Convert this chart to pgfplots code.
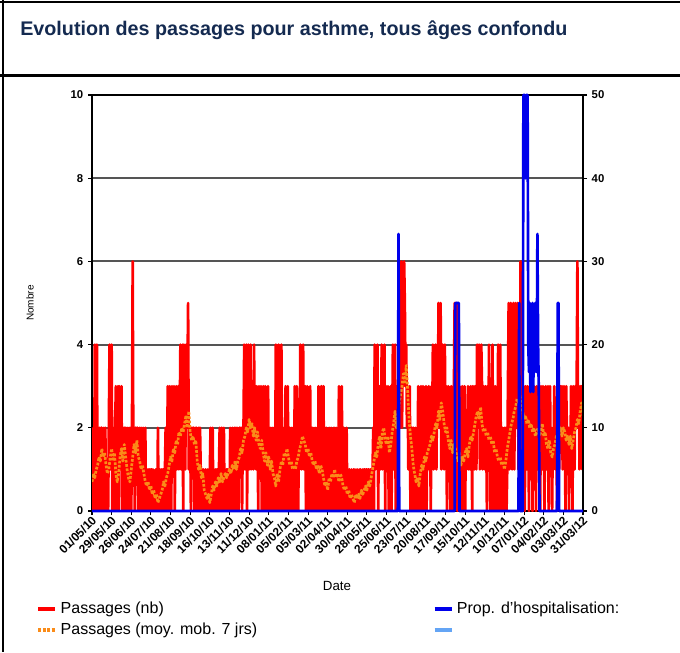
\documentclass[border=0pt]{standalone}
\usepackage{fontspec}
\setmainfont{Liberation Sans}
\usepackage{graphicx}
\usepackage{pgfplots}
\usepackage{pgfplotstable}
\pgfplotsset{compat=1.18}

\definecolor{titlenavy}{RGB}{20,42,80}
\definecolor{passred}{RGB}{255,0,0}
\definecolor{mmorange}{RGB}{250,140,25}
\definecolor{hospblue}{RGB}{0,0,235}
\definecolor{lightblue}{RGB}{100,165,245}
\definecolor{gridgray}{RGB}{85,85,85}

% passages par jour, 01/05/10 -> 31/03/12
\pgfplotstableread[row sep=\\]{n\\
1\\0\\2\\0\\4\\1\\0\\4\\0\\2\\
1\\2\\0\\2\\2\\1\\0\\2\\1\\2\\
0\\1\\0\\0\\2\\4\\1\\2\\4\\0\\
2\\1\\0\\2\\3\\0\\1\\3\\0\\3\\
1\\2\\3\\0\\2\\1\\2\\0\\2\\1\\
2\\0\\0\\2\\1\\2\\0\\2\\6\\1\\
2\\0\\2\\1\\2\\2\\0\\1\\2\\0\\
2\\1\\0\\2\\0\\1\\2\\0\\1\\0\\
1\\0\\1\\0\\1\\1\\0\\1\\0\\0\\
0\\1\\0\\0\\2\\0\\0\\1\\0\\1\\
0\\1\\1\\0\\1\\2\\0\\1\\3\\0\\
2\\3\\1\\0\\3\\2\\1\\3\\0\\2\\
3\\1\\2\\3\\1\\2\\4\\1\\2\\4\\
0\\4\\2\\1\\4\\2\\3\\5\\1\\2\\
2\\0\\2\\1\\2\\2\\0\\2\\1\\2\\
0\\1\\2\\0\\2\\1\\0\\1\\0\\1\\
0\\0\\1\\0\\0\\1\\0\\0\\1\\2\\
0\\1\\2\\0\\1\\0\\1\\0\\1\\1\\
0\\1\\2\\0\\1\\2\\0\\1\\2\\0\\
1\\0\\1\\1\\0\\1\\0\\2\\1\\0\\
2\\1\\0\\2\\1\\2\\0\\2\\1\\0\\
2\\2\\1\\2\\0\\2\\2\\4\\1\\2\\
4\\0\\2\\4\\1\\3\\4\\1\\2\\3\\
1\\4\\2\\3\\1\\3\\2\\0\\3\\1\\
2\\3\\0\\2\\3\\1\\0\\3\\1\\2\\
0\\3\\1\\2\\0\\2\\1\\0\\2\\0\\
1\\0\\4\\0\\0\\1\\4\\0\\1\\0\\
4\\1\\2\\0\\2\\1\\3\\0\\2\\3\\
1\\0\\2\\1\\0\\2\\1\\2\\0\\3\\
0\\2\\3\\1\\0\\2\\1\\4\\2\\1\\
2\\4\\1\\2\\3\\0\\1\\3\\2\\0\\
1\\3\\0\\2\\1\\2\\0\\1\\2\\0\\
1\\2\\0\\3\\1\\0\\2\\3\\0\\1\\
3\\0\\1\\0\\2\\0\\1\\0\\2\\0\\
1\\2\\0\\1\\0\\2\\1\\0\\2\\0\\
1\\0\\3\\0\\1\\0\\3\\1\\0\\2\\
0\\1\\0\\2\\0\\1\\0\\1\\0\\0\\
1\\0\\0\\1\\0\\1\\0\\0\\1\\0\\
0\\1\\0\\1\\0\\0\\1\\0\\1\\1\\
0\\1\\1\\0\\1\\1\\0\\1\\1\\0\\
1\\2\\0\\4\\1\\2\\3\\4\\0\\2\\
3\\1\\2\\4\\1\\3\\2\\4\\0\\3\\
1\\2\\3\\0\\2\\1\\3\\0\\2\\4\\
1\\2\\4\\0\\3\\2\\1\\2\\3\\2\\
3\\6\\2\\4\\3\\6\\5\\3\\4\\2\\
3\\1\\2\\3\\0\\1\\2\\0\\2\\1\\
0\\2\\0\\1\\0\\3\\0\\1\\0\\3\\
0\\1\\3\\0\\2\\1\\3\\0\\2\\1\\
3\\1\\2\\0\\3\\2\\4\\1\\3\\2\\
4\\1\\3\\2\\5\\2\\3\\5\\1\\3\\
4\\2\\1\\4\\2\\3\\0\\2\\3\\1\\
2\\0\\3\\1\\2\\0\\3\\5\\1\\2\\
5\\0\\2\\1\\3\\0\\2\\1\\3\\0\\
1\\3\\0\\2\\1\\2\\3\\1\\2\\1\\
3\\2\\0\\3\\2\\1\\3\\2\\1\\4\\
2\\3\\4\\1\\2\\4\\3\\1\\3\\2\\
1\\3\\2\\0\\3\\1\\4\\2\\0\\3\\
1\\4\\0\\2\\1\\3\\0\\2\\1\\4\\
0\\2\\4\\1\\0\\2\\1\\0\\2\\1\\
2\\0\\1\\3\\5\\1\\2\\5\\3\\1\\
2\\5\\1\\3\\5\\2\\3\\5\\1\\2\\
3\\6\\2\\3\\1\\3\\2\\0\\3\\2\\
1\\3\\2\\0\\3\\1\\2\\3\\0\\2\\
3\\1\\2\\0\\3\\2\\1\\3\\2\\0\\
3\\2\\1\\3\\2\\0\\2\\3\\1\\2\\
3\\0\\2\\3\\1\\2\\0\\2\\1\\3\\
2\\1\\2\\0\\3\\2\\1\\2\\3\\2\\
3\\1\\2\\3\\2\\0\\3\\2\\1\\2\\
0\\2\\1\\3\\2\\0\\3\\2\\1\\3\\
2\\3\\6\\2\\3\\1\\3\\2\\3\\1\\2\\
}\redtab

% moyenne mobile 7 jours, un point tous les 2 jours
\pgfplotstableread[row sep=\\]{n\\
0.7\\0.9\\0.8\\1.0\\1.1\\1.3\\1.2\\1.5\\1.3\\1.4\\
1.1\\0.9\\1.0\\1.3\\1.5\\1.2\\1.4\\0.9\\0.7\\0.9\\
1.3\\1.5\\1.2\\1.6\\1.3\\1.0\\0.8\\0.7\\1.0\\1.3\\
1.6\\1.4\\1.7\\1.3\\1.2\\1.0\\1.1\\0.9\\0.7\\0.6\\
0.7\\0.5\\0.6\\0.4\\0.5\\0.3\\0.4\\0.2\\0.3\\0.4\\
0.5\\0.7\\0.6\\0.8\\0.9\\1.1\\1.3\\1.2\\1.5\\1.4\\
1.7\\1.6\\1.9\\1.8\\2.0\\1.9\\2.1\\2.3\\2.0\\2.4\\
1.9\\1.7\\1.8\\1.6\\1.7\\1.2\\1.0\\1.1\\0.8\\0.9\\
0.5\\0.4\\0.3\\0.4\\0.2\\0.4\\0.6\\0.5\\0.7\\0.6\\
0.8\\0.7\\0.9\\0.7\\0.8\\0.9\\0.8\\0.9\\1.0\\0.9\\
1.1\\1.0\\1.2\\1.0\\1.2\\1.3\\1.5\\1.4\\1.7\\1.8\\
2.0\\1.9\\2.2\\2.0\\2.1\\1.8\\2.0\\1.7\\1.9\\1.6\\
1.5\\1.7\\1.4\\1.2\\1.4\\1.1\\1.3\\1.0\\1.2\\0.9\\
0.8\\0.6\\0.9\\0.7\\1.0\\1.2\\1.1\\1.4\\1.3\\1.5\\
1.3\\1.1\\1.2\\1.0\\1.1\\1.0\\1.2\\1.3\\1.5\\1.6\\
1.8\\1.7\\1.6\\1.4\\1.5\\1.3\\1.4\\1.2\\1.1\\1.2\\
1.0\\1.1\\0.9\\1.1\\1.0\\0.8\\0.6\\0.7\\0.5\\0.8\\
0.7\\0.9\\0.8\\1.0\\0.8\\0.9\\0.7\\0.9\\0.8\\0.6\\
0.5\\0.6\\0.4\\0.5\\0.3\\0.4\\0.3\\0.2\\0.4\\0.3\\
0.4\\0.3\\0.5\\0.4\\0.5\\0.6\\0.5\\0.7\\0.6\\0.8\\
1.0\\1.2\\1.4\\1.3\\1.6\\1.8\\1.5\\1.9\\2.0\\1.7\\
1.6\\1.8\\1.4\\1.6\\1.9\\2.1\\2.4\\2.0\\2.2\\2.6\\
2.8\\3.0\\3.3\\3.1\\3.5\\2.9\\2.2\\1.8\\1.5\\1.1\\
0.9\\0.7\\0.8\\0.6\\0.9\\1.1\\1.0\\1.3\\1.2\\1.4\\
1.5\\1.6\\1.8\\1.7\\1.9\\2.1\\2.0\\2.4\\2.2\\2.6\\
2.4\\2.1\\1.9\\2.0\\1.7\\1.5\\1.7\\1.4\\1.6\\1.5\\
1.3\\1.2\\1.4\\1.1\\1.3\\1.2\\1.4\\1.5\\1.3\\1.6\\
1.8\\1.7\\1.9\\2.1\\2.3\\2.4\\2.2\\2.5\\2.1\\1.9\\
2.0\\1.8\\1.9\\1.7\\1.8\\1.6\\1.7\\1.4\\1.5\\1.3\\
1.2\\1.3\\1.1\\1.2\\1.0\\1.2\\1.5\\1.7\\1.9\\2.1\\
2.2\\2.4\\2.5\\2.7\\2.6\\2.8\\2.5\\2.4\\2.2\\2.3\\
2.1\\2.2\\2.0\\2.1\\1.9\\2.0\\1.8\\1.9\\2.0\\1.8\\
1.9\\2.1\\1.8\\1.9\\1.6\\1.5\\1.7\\1.4\\1.3\\1.5\\
1.6\\1.8\\1.7\\1.9\\2.0\\1.8\\2.0\\1.9\\1.7\\1.8\\
1.6\\1.8\\1.5\\1.7\\1.9\\2.0\\2.2\\2.1\\2.4\\2.6\\
2.3\\
}\orangetab

\pgfplotsset{
  chartbase/.style={
    at={(69pt,-383.25pt)}, anchor=south west,
    width=368.25pt, height=312pt, scale only axis,
    xmin=0, xmax=700,
    tick align=outside, major tick length=3pt,
    tick style={black, line width=0.8pt},
    /pgf/number format/assume math mode=true,
    yticklabel style={font=\bfseries\fontsize{8.5}{10}\selectfont},
  },
}

\begin{document}
\begin{tikzpicture}
\path[use as bounding box] (0,0) rectangle (510pt,-489pt);
\draw[line width=2pt] (0,-1.5pt) -- (510pt,-1.5pt);
\draw[line width=2pt] (0,-56.6pt) -- (510pt,-56.6pt);
\draw[line width=2pt] (2.2pt,0) -- (2.2pt,-489pt);
\node[anchor=base west, inner sep=0pt, text=titlenavy,
      font=\bfseries\fontsize{14.8}{17}\selectfont] at (15pt,-26.3pt)
  {Evolution des passages pour asthme, tous âges confondu};

\begin{axis}[chartbase,
  ymin=0, ymax=10, ytick={0,2,...,10},
  xtick={0,28,...,700},
  xticklabels={01/05/10,29/05/10,26/06/10,24/07/10,21/08/10,18/09/10,16/10/10,13/11/10,11/12/10,08/01/11,05/02/11,05/03/11,02/04/11,30/04/11,28/05/11,25/06/11,23/07/11,20/08/11,17/09/11,15/10/11,12/11/11,10/12/11,07/01/12,04/02/12,03/03/12,31/03/12},
  xtick pos=left, ytick pos=left,
  ymajorgrids, grid style={gridgray, line width=1.4pt},
  axis line style={black, line width=1.4pt},
  xticklabel style={font=\bfseries\fontsize{9}{10}\selectfont, rotate=45, anchor=east, yshift=-3pt, inner sep=0.5pt},
  ylabel={Nombre},
  ylabel style={at={(axis description cs:-0.126,0.5)}, anchor=center, font=\fontsize{7.5}{8}\selectfont},
  xlabel={Date},
  xlabel style={at={(axis description cs:0.499,-0.18)}, anchor=center, font=\fontsize{10}{12}\selectfont},
]
\addplot[passred, line width=2pt, line join=round] table[x expr=\coordindex, y=n] {\redtab};
\addplot[mmorange, line width=2pt, line join=round, dash pattern=on 2pt off 1.2pt] table[x expr=2*\coordindex, y=n] {\orangetab};
\end{axis}

\begin{axis}[chartbase,
  ymin=0, ymax=50, ytick={0,10,...,50},
  axis x line=none, axis y line*=right,
  axis line style={-, black, line width=1.4pt},
  clip=false,
  legend columns=2,
  legend cell align=left,
  legend image code/.code={\draw[#1] (0pt,0pt) -- (12.75pt,0pt);},
  legend style={at={(axis description cs:-0.122,-0.204)}, anchor=north west,
    draw=none, fill=none, font=\fontsize{12}{13}\selectfont,
    nodes={inner ysep=2.6pt, inner xsep=2.5pt},
    /tikz/every even column/.append style={column sep=129pt}},
]
\addplot[hospblue, line width=2pt, line join=round, forget plot] coordinates {
(0,0) (436,0) (437,33.3) (438,0) (517,0) (518,25) (519,25) (520,25) (521,25) (522,25) (523,25) (524,0)
(608,0) (609,25) (610,0) (614,0) (615,50) (616,50) (617,50) (618,40) (619,50) (620,50) (621,50)
(622,20) (623,16.7) (624,25) (625,14.3) (626,20) (627,16.7) (628,25) (629,14.3) (630,20)
(631,16.7) (632,25) (633,20) (634,16.7) (635,33.3) (636,20) (637,14.3) (638,0)
(663,0) (664,25) (665,25) (666,0) (700,0)};
\addlegendimage{passred, line width=3pt}
\addlegendentry{Passages (nb)}
\addlegendimage{hospblue, line width=3pt}
\addlegendentry{Prop. d'hospitalisation:}
\addlegendimage{mmorange, line width=3pt, dash pattern=on 2.2pt off 1.1pt}
\addlegendentry{Passages (moy. mob. 7 jrs)}
\addlegendimage{lightblue, line width=3pt}
\addlegendentry{}
\end{axis}
\end{tikzpicture}
\end{document}
